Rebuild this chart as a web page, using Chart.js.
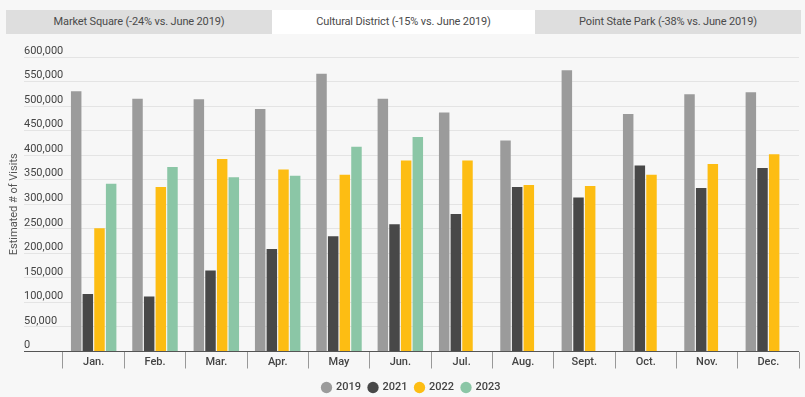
<!DOCTYPE html>
<html>
<head>
<meta charset="utf-8">
<script src="https://cdn.jsdelivr.net/npm/chart.js@4"></script>
<style>
  html, body { margin: 0; padding: 0; background: #f7f7f7; overflow: hidden; width: 805px; height: 397px; }
  #wrap { position: absolute; left: 0; top: 0; width: 805px; height: 403px; }
  .tab { position: absolute; top: 10px; height: 24px; line-height: 24px; text-align: center;
         font-family: Roboto, "Noto Sans", sans-serif; font-size: 11px; color: #4a4a4a; z-index: 2; letter-spacing: -0.15px; }
  #t1 { left: 6px; width: 266px; background: #dedede; }
  #t2 { left: 272px; width: 263px; background: #ffffff; }
  #t3 { left: 535px; width: 266px; background: #dedede; }
</style>
</head>
<body>
<div class="tab" id="t1">Market Square (-24% vs. June 2019)</div>
<div class="tab" id="t2">Cultural District (-15% vs. June 2019)</div>
<div class="tab" id="t3">Point State Park (-38% vs. June 2019)</div>
<div id="wrap"><canvas id="c"></canvas></div>
<script>
const months = ['Jan.','Feb.','Mar.','Apr.','May','Jun.','Jul.','Aug.','Sept.','Oct.','Nov.','Dec.'];
const visits2019 = [530000,515000,514000,494000,566000,515000,487000,430000,573000,484000,524000,528000];
const visits2021 = [117000,112000,165000,209000,235000,259000,280000,335000,314000,379000,333000,374000];
const visits2022 = [251000,335000,392000,371000,360000,389000,389000,339000,337000,360000,382000,402000];
const visits2023 = [342000,376000,355000,358000,417000,437000,null,null,null,null,null,null];
const seriesNames = ['2019','2021','2022','2023'];
const yTitle = 'Estimated # of Visits';

const FONT = 'Roboto, "Noto Sans", sans-serif';

const titlePlugin = {
  id: 'yTitle',
  afterDraw(chart) {
    const {ctx, chartArea} = chart;
    ctx.save();
    ctx.translate(14, (chartArea.top + chartArea.bottom) / 2);
    ctx.rotate(-Math.PI / 2);
    ctx.font = '11px ' + FONT;
    ctx.fillStyle = '#555';
    ctx.textAlign = 'center';
    ctx.textBaseline = 'middle';
    ctx.fillText(yTitle, 0, 0);
    ctx.restore();
  }
};

new Chart(document.getElementById('c'), {
  type: 'bar',
  data: {
    labels: months,
    datasets: [
      { label: seriesNames[0], data: visits2019, backgroundColor: '#9b9b9b' },
      { label: seriesNames[1], data: visits2021, backgroundColor: '#484848' },
      { label: seriesNames[2], data: visits2022, backgroundColor: '#fdbd13' },
      { label: seriesNames[3], data: visits2023, backgroundColor: '#8bc6a6' }
    ]
  },
  options: {
    responsive: true,
    maintainAspectRatio: false,
    animation: false,
    datasets: { bar: { categoryPercentage: 0.76, barPercentage: 0.9 } },
    layout: { padding: { top: 57, left: 24, right: 6, bottom: 0 } },
    plugins: {
      legend: {
        position: 'bottom',
        labels: {
          usePointStyle: true, pointStyle: 'circle', boxWidth: 8, boxHeight: 8,
          padding: 8, color: '#444', font: { family: FONT, size: 11, weight: '500' }
        }
      },
      tooltip: { enabled: false }
    },
    scales: {
      x: {
        grid: { drawOnChartArea: false, drawTicks: true, tickLength: 17, color: '#999', offset: true },
        border: { display: false },
        ticks: { padding: -13, color: '#444', font: { family: FONT, size: 11, weight: '500' }, maxRotation: 0 },
        afterFit(s) { s.height = 22.5; }
      },
      y: {
        min: 0, max: 600000,
        border: { display: false },
        grid: {
          color: (c) => (c.tick && c.tick.value === 0) ? '#555' : '#e4e4e4',
          tickLength: 39, drawTicks: true
        },
        ticks: {
          stepSize: 50000, labelOffset: -6, crossAlign: 'far', padding: 0,
          color: '#444', font: { family: FONT, size: 11 },
          callback: (v) => Number(v).toLocaleString('en-US')
        },
        afterFit(s) { s.width = 39; }
      }
    }
  },
  plugins: [titlePlugin]
});
</script>
</body>
</html>
